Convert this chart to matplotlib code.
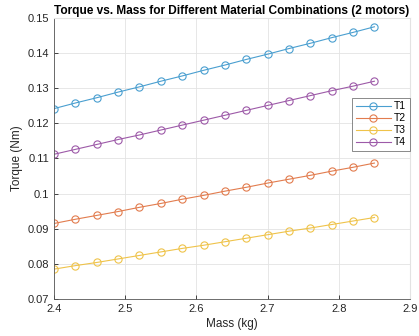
import matplotlib
matplotlib.use("Agg")
import matplotlib.pyplot as plt

plt.rcParams['font.family'] = ['Liberation Sans', 'DejaVu Sans']

mass = [2.40, 2.43, 2.46, 2.49, 2.52, 2.55, 2.58, 2.61, 2.64, 2.67, 2.70, 2.73, 2.76, 2.79, 2.82, 2.85]
T1 = [0.1242, 0.1258, 0.1273, 0.1289, 0.1304, 0.1320, 0.1335, 0.1351, 0.1366, 0.1382, 0.1397, 0.1413, 0.1428, 0.1444, 0.1459, 0.1475]
T2 = [0.0915, 0.0927, 0.0938, 0.0949, 0.0961, 0.0972, 0.0984, 0.0995, 0.1007, 0.1018, 0.1030, 0.1041, 0.1052, 0.1064, 0.1075, 0.1087]
T3 = [0.0785, 0.0795, 0.0804, 0.0814, 0.0824, 0.0834, 0.0844, 0.0853, 0.0863, 0.0873, 0.0883, 0.0893, 0.0902, 0.0912, 0.0922, 0.0932]
T4 = [0.1112, 0.1126, 0.1140, 0.1154, 0.1167, 0.1181, 0.1195, 0.1209, 0.1223, 0.1237, 0.1251, 0.1265, 0.1279, 0.1293, 0.1306, 0.1320]
series = [("T1", T1), ("T2", T2), ("T3", T3), ("T4", T4)]
colors = ["#4a9fd0", "#e27c4e", "#efc34a", "#9d5aa8"]
xticks = [2.4, 2.5, 2.6, 2.7, 2.8, 2.9]
yticks = [0.07, 0.08, 0.09, 0.1, 0.11, 0.12, 0.13, 0.14, 0.15]
ytick_labels = ["0.07", "0.08", "0.09", "0.1", "0.11", "0.12", "0.13", "0.14", "0.15"]

fig = plt.figure(figsize=(4.19, 3.36), dpi=100)
ax = fig.add_axes([54/419, 1-299/336, (410-54)/419, (299-18)/336])

for (name, vals), c in zip(series, colors):
    ax.plot(mass, vals, '-o', color=c, lw=0.8, ms=5.2, mfc='none', mew=0.8, label=name)

ax.set_xlim(2.4, 2.9)
ax.set_ylim(0.07, 0.15)
ax.set_xticks(xticks)
ax.set_xticklabels([f"{v:g}" for v in xticks])
ax.set_yticks(yticks)
ax.set_yticklabels(ytick_labels)
ax.grid(True, color='#e3e3e3', lw=0.6)
ax.set_axisbelow(True)
for s in ['top', 'right']:
    ax.spines[s].set_color('#e3e3e3')
for s in ['left', 'bottom']:
    ax.spines[s].set_color('#555555')
    ax.spines[s].set_linewidth(0.6)
ax.tick_params(direction='in', length=3, width=0.6, labelsize=8, colors='#262626', top=False, right=False)
ax.set_xlabel("Mass (kg)", fontsize=8.5, color='#262626', labelpad=3)
ax.set_ylabel("Torque (Nm)", fontsize=8.5, color='#262626', labelpad=3)
ax.set_title("Torque vs. Mass for Different Material Combinations (2 motors)", fontsize=8.6, fontweight='bold', pad=3)

leg = ax.legend(loc='upper right', bbox_to_anchor=(1.0, 0.717), fontsize=7.5, frameon=True,
                fancybox=False, edgecolor='#555555', borderpad=0.35, labelspacing=0.2,
                handlelength=3.4, handletextpad=0.3, borderaxespad=0.0)
leg.get_frame().set_linewidth(0.6)

fig.savefig("out.png", dpi=100)
